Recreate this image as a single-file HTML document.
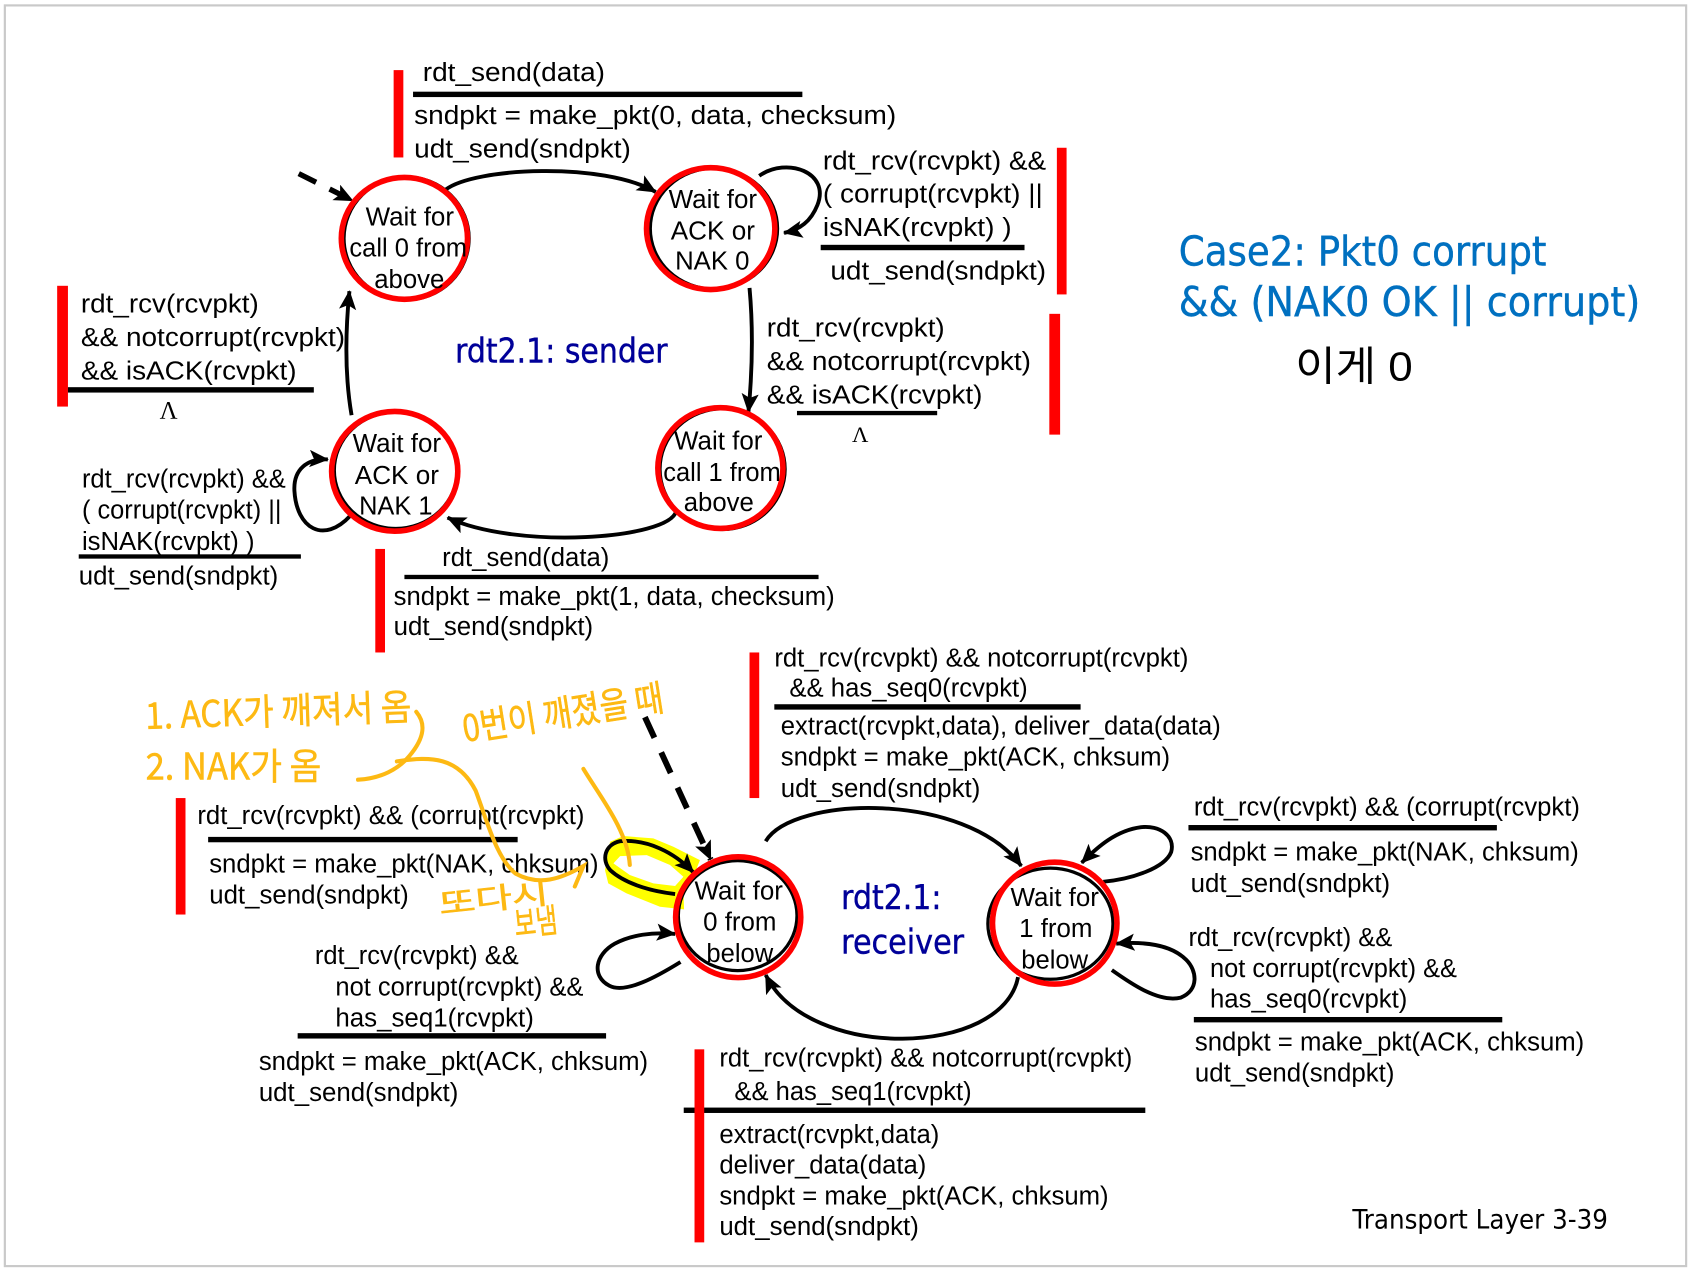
<!DOCTYPE html>
<html><head><meta charset="utf-8">
<style>
html,body{margin:0;padding:0;background:#fff}
svg{display:block}
text{font-family:"Liberation Sans","Noto Sans CJK KR",sans-serif;fill:#000}
.s{font-size:24px}
.m{font-size:24px}
.b{font-family:"DejaVu Sans",sans-serif;fill:#000099;font-size:31px;stroke:#000099;stroke-width:.4}
.c{font-family:"DejaVu Sans",sans-serif;fill:#0070C0;font-size:38px;stroke:#0070C0;stroke-width:.4}
.o{font-family:"Noto Sans CJK KR","NanumGothic",sans-serif;fill:#FDB913;font-size:34px;stroke:#FDB913;stroke-width:.5}
.a{fill:none;stroke:#000;stroke-width:3.6}
.r{fill:none;stroke:#f00;stroke-width:5.2}
.k{fill:none;stroke:#000;stroke-width:3}
.y{fill:none;stroke:#FDB913;stroke-width:3.8;stroke-linecap:round}
</style></head>
<body>
<svg xmlns="http://www.w3.org/2000/svg" width="1691" height="1270" viewBox="0 0 1568 1177.6">
<defs>
<marker id="h" markerUnits="userSpaceOnUse" markerWidth="20" markerHeight="18" refX="17" refY="8" orient="auto"><path d="M0,0 L18,8 L0,16 L4,8 Z" fill="#000"/></marker>
</defs>
<rect width="1568" height="1178" fill="#fff"/>
<rect x="4.5" y="5" width="1559" height="1169" fill="none" stroke="#c9c9c9" stroke-width="2"/>

<!-- red bars -->
<g fill="#f00">
<rect x="365" y="65" width="9" height="81"/>
<rect x="980" y="137" width="9" height="136"/>
<rect x="973" y="291" width="10" height="112"/>
<rect x="53" y="265" width="10" height="112"/>
<rect x="348" y="509" width="9" height="96"/>
<rect x="695" y="605" width="9" height="135"/>
<rect x="163" y="740" width="9" height="108"/>
</g>

<!-- rules -->
<g fill="#000">
<rect x="383" y="85" width="361" height="5"/>
<rect x="761" y="227" width="189" height="5"/>
<rect x="739" y="381" width="130" height="4"/>
<rect x="63" y="359" width="228" height="5"/>
<rect x="73" y="514" width="206" height="4"/>
<rect x="375" y="533" width="384" height="4"/>
<rect x="718" y="653" width="284" height="5"/>
<rect x="193" y="776" width="287" height="5"/>
<rect x="276" y="958" width="286" height="5"/>
<rect x="634" y="1027" width="428" height="5"/>
<rect x="1102" y="765" width="286" height="5"/>
<rect x="1107" y="943" width="286" height="5"/>
</g>
<rect x="644" y="973" width="9" height="179" fill="#f00"/>

<!-- highlight -->
<path fill="#FFFF00" fill-rule="evenodd" d="M565.7,780.5 L578,775.2 L605.8,777.4 L624.4,785.1 L649,797.5 L643,813 L633.7,825.3 L634.3,843.2 L612,840.8 L581,828.4 L564,819.1 L561,806.8 Z M568.8,800.6 L575,793.8 L599.7,792.9 L621.3,802.1 L633.7,813 L626,821.6 L605.8,819.1 L584,811.4 Z"/>

<!-- arrows -->
<g class="a" fill="none">
<path d="M413,176 C440,155 560,150 608,178" marker-end="url(#h)"/>
<path d="M704,163 C730,145 770,160 758,190 C752,205 742,213 727,216" marker-end="url(#h)"/>
<path d="M695,267 C698,300 698,340 694,382" marker-end="url(#h)"/>
<path d="M627,474 C620,500 480,510 415,480" marker-end="url(#h)"/>
<path d="M325,478 C300,505 275,490 273,455 C272,435 285,425 304,426" marker-end="url(#h)"/>
<path d="M326,385 C320,350 320,310 324,270" marker-end="url(#h)"/>
<path d="M277,161 L327,186" stroke-width="5" stroke-dasharray="18,14" marker-end="url(#h)"/>
<path d="M598,665 L659,797" stroke-width="5.5" stroke-dasharray="21,15" marker-end="url(#h)"/>
<path d="M710,780 C735,738 895,733 947,803" marker-end="url(#h)"/>
<path d="M944,906 C930,980 750,985 710,904" marker-end="url(#h)"/>
<path d="M626,829 C600,826 578,818 566,807 C557,797 561,783 575,780 C600,778 625,790 643,809" marker-end="url(#h)"/>
<path d="M631,892 C610,905 580,922 565,914 C548,905 552,885 570,875 C585,867 605,864 626,866" marker-end="url(#h)"/>
<path d="M1023,817.6 C1050,815 1080,805 1086,790 C1090,775 1075,765 1058,767 C1035,770 1018,785 1003,800" marker-end="url(#h)"/>
<path d="M1031,899.5 C1050,913 1075,930 1095,925 C1112,918 1110,900 1100,890 C1085,875 1060,873 1035,875" marker-end="url(#h)"/>
</g>

<!-- states -->
<ellipse class="k" cx="377" cy="221" rx="58" ry="57"/><ellipse class="r" cx="375" cy="221" rx="58.5" ry="56.5"/>
<ellipse class="k" cx="662" cy="212" rx="59" ry="56"/><ellipse class="r" cx="659" cy="212" rx="59.5" ry="56.5"/>
<ellipse class="k" cx="670" cy="435" rx="58" ry="56"/><ellipse class="r" cx="668" cy="434" rx="58" ry="56"/>
<ellipse class="k" cx="367" cy="436" rx="57" ry="54"/><ellipse class="r" cx="366" cy="437" rx="58.5" ry="55.5"/>
<ellipse class="k" cx="684" cy="849" rx="55" ry="51"/><ellipse class="r" cx="684.5" cy="850.5" rx="58" ry="56"/>
<ellipse class="k" cx="974" cy="856.5" rx="58" ry="51.5"/><ellipse class="r" cx="978" cy="856" rx="57.7" ry="56.5"/>

<g class="s">
<text x="339" y="209" textLength="82" lengthAdjust="spacingAndGlyphs">Wait for</text>
<text x="324" y="238" textLength="109" lengthAdjust="spacingAndGlyphs">call 0 from</text>
<text x="347" y="267" textLength="65" lengthAdjust="spacingAndGlyphs">above</text>
<text x="620" y="193" textLength="82" lengthAdjust="spacingAndGlyphs">Wait for</text>
<text x="622" y="222" textLength="78" lengthAdjust="spacingAndGlyphs">ACK or</text>
<text x="626" y="250" textLength="69" lengthAdjust="spacingAndGlyphs">NAK 0</text>
<text x="625" y="417" textLength="82" lengthAdjust="spacingAndGlyphs">Wait for</text>
<text x="615" y="446" textLength="109" lengthAdjust="spacingAndGlyphs">call 1 from</text>
<text x="634" y="474" textLength="65" lengthAdjust="spacingAndGlyphs">above</text>
<text x="327" y="419" textLength="82" lengthAdjust="spacingAndGlyphs">Wait for</text>
<text x="329" y="449" textLength="78" lengthAdjust="spacingAndGlyphs">ACK or</text>
<text x="333" y="477" textLength="68" lengthAdjust="spacingAndGlyphs">NAK 1</text>
<text x="644" y="834" textLength="82" lengthAdjust="spacingAndGlyphs">Wait for</text>
<text x="652" y="863" textLength="68" lengthAdjust="spacingAndGlyphs">0 from</text>
<text x="655" y="892" textLength="62" lengthAdjust="spacingAndGlyphs">below</text>
<text x="937" y="840" textLength="82" lengthAdjust="spacingAndGlyphs">Wait for</text>
<text x="945" y="869" textLength="68" lengthAdjust="spacingAndGlyphs">1 from</text>
<text x="947" y="898" textLength="62" lengthAdjust="spacingAndGlyphs">below</text>
</g>

<g class="m">
<text x="392" y="75" textLength="169" lengthAdjust="spacingAndGlyphs">rdt_send(data)</text>
<text x="384" y="115" textLength="447" lengthAdjust="spacingAndGlyphs">sndpkt = make_pkt(0, data, checksum)</text>
<text x="384" y="146" textLength="201" lengthAdjust="spacingAndGlyphs">udt_send(sndpkt)</text>
<text x="763" y="157" textLength="207" lengthAdjust="spacingAndGlyphs">rdt_rcv(rcvpkt) &amp;&amp;</text>
<text x="763" y="188" textLength="204" lengthAdjust="spacingAndGlyphs">( corrupt(rcvpkt) ||</text>
<text x="763" y="219" textLength="175" lengthAdjust="spacingAndGlyphs">isNAK(rcvpkt) )</text>
<text x="770" y="259" textLength="200" lengthAdjust="spacingAndGlyphs">udt_send(sndpkt)</text>
<text x="711" y="312" textLength="165" lengthAdjust="spacingAndGlyphs">rdt_rcv(rcvpkt)</text>
<text x="711" y="343" textLength="245" lengthAdjust="spacingAndGlyphs">&amp;&amp; notcorrupt(rcvpkt)</text>
<text x="711" y="374" textLength="200" lengthAdjust="spacingAndGlyphs">&amp;&amp; isACK(rcvpkt)</text>
<text x="75" y="290" textLength="165" lengthAdjust="spacingAndGlyphs">rdt_rcv(rcvpkt)</text>
<text x="75" y="321" textLength="245" lengthAdjust="spacingAndGlyphs">&amp;&amp; notcorrupt(rcvpkt)</text>
<text x="75" y="352" textLength="200" lengthAdjust="spacingAndGlyphs">&amp;&amp; isACK(rcvpkt)</text>
<text x="76" y="452" textLength="189" lengthAdjust="spacingAndGlyphs">rdt_rcv(rcvpkt) &amp;&amp;</text>
<text x="76" y="481" textLength="185" lengthAdjust="spacingAndGlyphs">( corrupt(rcvpkt) ||</text>
<text x="76" y="510" textLength="160" lengthAdjust="spacingAndGlyphs">isNAK(rcvpkt) )</text>
<text x="73" y="542" textLength="185" lengthAdjust="spacingAndGlyphs">udt_send(sndpkt)</text>
<text x="410" y="525" textLength="155" lengthAdjust="spacingAndGlyphs">rdt_send(data)</text>
<text x="365" y="561" textLength="409" lengthAdjust="spacingAndGlyphs">sndpkt = make_pkt(1, data, checksum)</text>
<text x="365" y="589" textLength="185" lengthAdjust="spacingAndGlyphs">udt_send(sndpkt)</text>

<text x="718" y="618" textLength="384" lengthAdjust="spacingAndGlyphs">rdt_rcv(rcvpkt) &amp;&amp; notcorrupt(rcvpkt)</text>
<text x="732" y="646" textLength="221" lengthAdjust="spacingAndGlyphs">&amp;&amp; has_seq0(rcvpkt)</text>
<text x="724" y="681" textLength="408" lengthAdjust="spacingAndGlyphs">extract(rcvpkt,data), deliver_data(data)</text>
<text x="724" y="710" textLength="361" lengthAdjust="spacingAndGlyphs">sndpkt = make_pkt(ACK, chksum)</text>
<text x="724" y="739" textLength="185" lengthAdjust="spacingAndGlyphs">udt_send(sndpkt)</text>
<text x="183" y="764" textLength="359" lengthAdjust="spacingAndGlyphs">rdt_rcv(rcvpkt) &amp;&amp; (corrupt(rcvpkt)</text>
<text x="194" y="809" textLength="361" lengthAdjust="spacingAndGlyphs">sndpkt = make_pkt(NAK, chksum)</text>
<text x="194" y="838" textLength="185" lengthAdjust="spacingAndGlyphs">udt_send(sndpkt)</text>
<text x="292" y="894" textLength="189" lengthAdjust="spacingAndGlyphs">rdt_rcv(rcvpkt) &amp;&amp;</text>
<text x="311" y="923" textLength="230" lengthAdjust="spacingAndGlyphs">not corrupt(rcvpkt) &amp;&amp;</text>
<text x="311" y="952" textLength="184" lengthAdjust="spacingAndGlyphs">has_seq1(rcvpkt)</text>
<text x="240" y="992" textLength="361" lengthAdjust="spacingAndGlyphs">sndpkt = make_pkt(ACK, chksum)</text>
<text x="240" y="1021" textLength="185" lengthAdjust="spacingAndGlyphs">udt_send(sndpkt)</text>
<text x="667" y="989" textLength="383" lengthAdjust="spacingAndGlyphs">rdt_rcv(rcvpkt) &amp;&amp; notcorrupt(rcvpkt)</text>
<text x="681" y="1020" textLength="220" lengthAdjust="spacingAndGlyphs">&amp;&amp; has_seq1(rcvpkt)</text>
<text x="667" y="1060" textLength="204" lengthAdjust="spacingAndGlyphs">extract(rcvpkt,data)</text>
<text x="667" y="1088" textLength="192" lengthAdjust="spacingAndGlyphs">deliver_data(data)</text>
<text x="667" y="1117" textLength="361" lengthAdjust="spacingAndGlyphs">sndpkt = make_pkt(ACK, chksum)</text>
<text x="667" y="1145" textLength="185" lengthAdjust="spacingAndGlyphs">udt_send(sndpkt)</text>
<text x="1107" y="756" textLength="358" lengthAdjust="spacingAndGlyphs">rdt_rcv(rcvpkt) &amp;&amp; (corrupt(rcvpkt)</text>
<text x="1104" y="798" textLength="360" lengthAdjust="spacingAndGlyphs">sndpkt = make_pkt(NAK, chksum)</text>
<text x="1104" y="827" textLength="185" lengthAdjust="spacingAndGlyphs">udt_send(sndpkt)</text>
<text x="1102" y="877" textLength="189" lengthAdjust="spacingAndGlyphs">rdt_rcv(rcvpkt) &amp;&amp;</text>
<text x="1122" y="906" textLength="229" lengthAdjust="spacingAndGlyphs">not corrupt(rcvpkt) &amp;&amp;</text>
<text x="1122" y="934" textLength="183" lengthAdjust="spacingAndGlyphs">has_seq0(rcvpkt)</text>
<text x="1108" y="974" textLength="361" lengthAdjust="spacingAndGlyphs">sndpkt = make_pkt(ACK, chksum)</text>
<text x="1108" y="1003" textLength="185" lengthAdjust="spacingAndGlyphs">udt_send(sndpkt)</text>
</g>

<text x="148" y="388" style="font-family:'Liberation Serif',serif;font-size:23px">Λ</text>
<text x="790" y="410" style="font-family:'Liberation Serif',serif;font-size:21px">Λ</text>

<text class="b" x="422" y="336" textLength="197" lengthAdjust="spacingAndGlyphs">rdt2.1: sender</text>
<text class="b" x="780" y="843" textLength="93" lengthAdjust="spacingAndGlyphs">rdt2.1:</text>
<text class="b" x="780" y="884" textLength="114" lengthAdjust="spacingAndGlyphs">receiver</text>
<text class="c" x="1093" y="246" textLength="341" lengthAdjust="spacingAndGlyphs">Case2: Pkt0 corrupt</text>
<text class="c" x="1093" y="293" textLength="428" lengthAdjust="spacingAndGlyphs">&amp;&amp; (NAK0 OK || corrupt)</text>
<text x="1254" y="1139" textLength="237" lengthAdjust="spacingAndGlyphs" style="font-family:'DejaVu Sans',sans-serif;font-size:25px">Transport Layer 3-39</text>
<text x="1201" y="353" textLength="109" lengthAdjust="spacingAndGlyphs" style="font-size:38px">이게 0</text>

<!-- orange annotations -->
<text class="o" transform="translate(135,676) rotate(-2)" textLength="247" lengthAdjust="spacingAndGlyphs">1. ACK가 깨져서 옴</text>
<text class="o" x="135" y="723" textLength="163" lengthAdjust="spacingAndGlyphs">2. NAK가 옴</text>
<text class="o" transform="translate(431,688) rotate(-9)" textLength="188" lengthAdjust="spacingAndGlyphs">0번이 깨졌을 때</text>
<text class="o" transform="translate(408,848) rotate(-6)" style="font-size:27px" textLength="102" lengthAdjust="spacingAndGlyphs">또다시</text>
<text class="o" transform="translate(478,868) rotate(-6)" style="font-size:31px" textLength="40" lengthAdjust="spacingAndGlyphs">보냄</text>
<path class="y" d="M386,660 C396,672 392,685 382,698 C370,714 352,722 332,723"/>
<path class="y" d="M368,706 C400,701 425,702 441,733 C452,762 460,795 478,810 C500,822 520,815 541,803 L533,822"/>
<path class="y" d="M541,713 C556,738 582,770 584,802"/>
</svg>
</body></html>
